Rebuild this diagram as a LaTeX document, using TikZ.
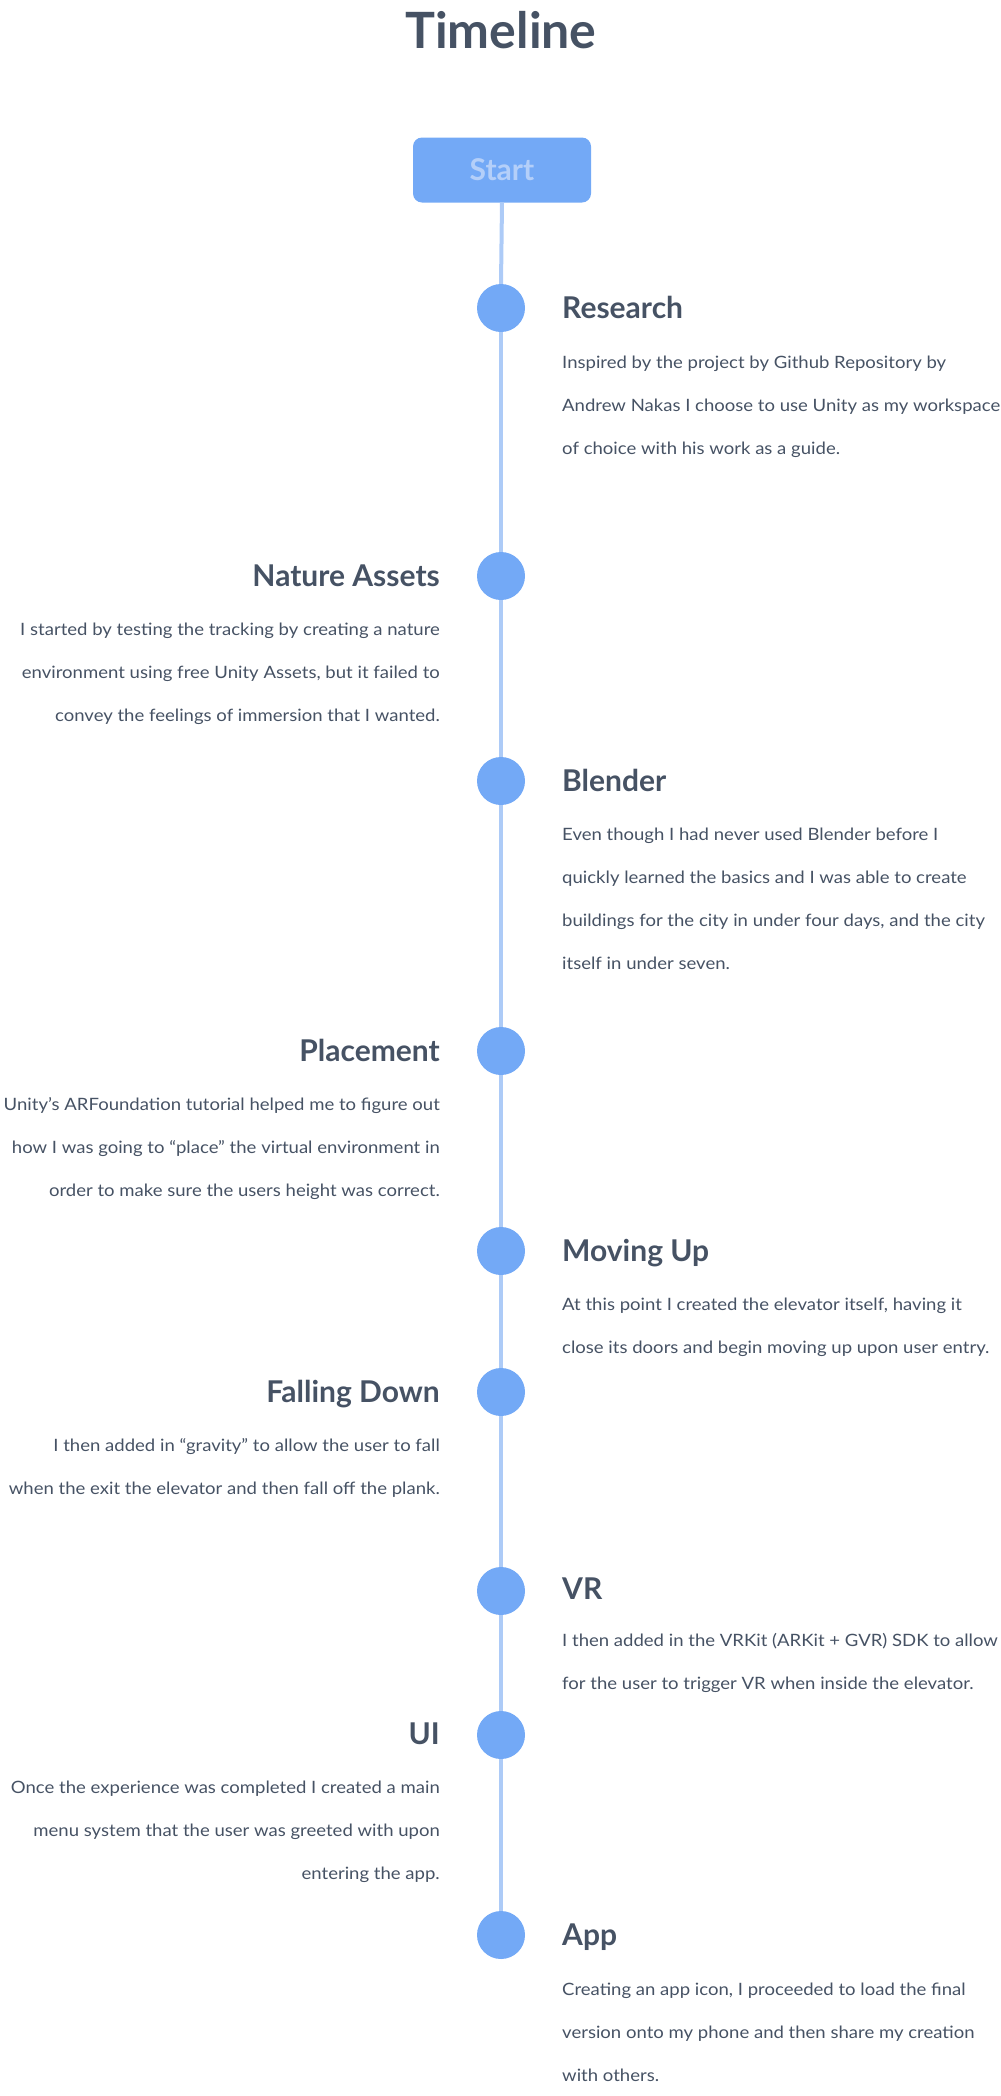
\documentclass[tikz,border=0pt]{standalone}
\usepackage{fontspec}
\setmainfont{Lato}
\newfontfamily\bodyfont[FakeStretch=1.09]{Lato}
\definecolor{ink}{HTML}{465264}
\definecolor{dotblue}{HTML}{73A9F6}
\definecolor{lineblue}{HTML}{ADCBF7}
\definecolor{startfg}{HTML}{B4CFF9}
\newcommand\linesR[1]{\begin{tabular}[t]{@{}l@{}}#1\end{tabular}}
\newcommand\linesL[1]{\begin{tabular}[t]{@{}r@{}}#1\end{tabular}}
\begin{document}
\begin{tikzpicture}[x=1pt,y=-1pt,
  dot/.style={circle,fill=dotblue,minimum size=48pt,inner sep=0pt},
  ttlR/.style={anchor=base west,inner sep=0pt,text=ink,font=\fontsize{30}{36}\selectfont\bfseries},
  ttlL/.style={anchor=base east,inner sep=0pt,text=ink,font=\fontsize{30}{36}\selectfont\bfseries},
  bodyR/.style={anchor=base west,inner sep=0pt,text=ink,font=\bodyfont\fontsize{17}{43}\selectfont},
  bodyL/.style={anchor=base east,inner sep=0pt,text=ink,font=\bodyfont\fontsize{17}{43}\selectfont},
  spine/.style={draw=lineblue,line width=4pt}]
\useasboundingbox (0,0) rectangle (1001,2096);
\node[text=ink,font=\fontsize{50}{58}\selectfont\bfseries,anchor=base,inner sep=0pt] (title) at (501,48) {Timeline};
\node[draw=none,fill=dotblue,rounded corners=9pt,minimum width=178pt,minimum height=65pt,inner sep=0pt,
  text=startfg,font=\fontsize{30}{36}\selectfont\bfseries] (start) at (502,170) {Start};
% dots
\node[dot] (d1) at (501,308) {};
\node[dot] (d2) at (501,576) {};
\node[dot] (d3) at (501,781) {};
\node[dot] (d4) at (501,1051) {};
\node[dot] (d5) at (501,1251) {};
\node[dot] (d6) at (501,1392) {};
\node[dot] (d7) at (501,1591) {};
\node[dot] (d8) at (501,1735) {};
\node[dot] (d9) at (501,1935) {};
\draw[spine] (start.south) -- (d1.north);
\draw[spine] (d1.south) -- (d2.north);
\draw[spine] (d2.south) -- (d3.north);
\draw[spine] (d3.south) -- (d4.north);
\draw[spine] (d4.south) -- (d5.north);
\draw[spine] (d5.south) -- (d6.north);
\draw[spine] (d6.south) -- (d7.north);
\draw[spine] (d7.south) -- (d8.north);
\draw[spine] (d8.south) -- (d9.north);
% Research
\node[ttlR] (t1) at (562,318) {Research};
\node[bodyR] (b1) at (562,368) {\linesR{Inspired by the project by Github Repository by\\Andrew Nakas I choose to use Unity as my workspace\\of choice with his work as a guide.}};
% Nature Assets
\node[ttlL] (t2) at (440,586) {Nature Assets};
\node[bodyL] (b2) at (440,635) {\linesL{I started by testing the tracking by creating a nature\\environment using free Unity Assets, but it failed to\\convey the feelings of immersion that I wanted.}};
% Blender
\node[ttlR] (t3) at (562,791) {Blender};
\node[bodyR] (b3) at (562,840) {\linesR{Even though I had never used Blender before I\\quickly learned the basics and I was able to create\\buildings for the city in under four days, and the city\\itself in under seven.}};
% Placement
\node[ttlL] (t4) at (440,1061) {Placement};
\node[bodyL] (b4) at (440,1110) {\linesL{Unity’s ARFoundation tutorial helped me to figure out\\how I was going to “place” the virtual environment in\\order to make sure the users height was correct.}};
% Moving Up
\node[ttlR] (t5) at (562,1261) {Moving Up};
\node[bodyR] (b5) at (562,1310) {\linesR{At this point I created the elevator itself, having it\\close its doors and begin moving up upon user entry.}};
% Falling Down
\node[ttlL] (t6) at (440,1402) {Falling Down};
\node[bodyL] (b6) at (440,1451) {\linesL{I then added in “gravity” to allow the user to fall\\when the exit the elevator and then fall off the plank.}};
% VR
\node[ttlR] (t7) at (562,1599) {VR};
\node[bodyR] (b7) at (562,1646) {\linesR{I then added in the VRKit (ARKit + GVR) SDK to allow\\for the user to trigger VR when inside the elevator.}};
% UI
\node[ttlL] (t8) at (440,1744) {UI};
\node[bodyL] (b8) at (440,1793) {\linesL{Once the experience was completed I created a main\\menu system that the user was greeted with upon\\entering the app.}};
% App
\node[ttlR] (t9) at (562,1945) {App};
\node[bodyR] (b9) at (562,1995) {\linesR{Creating an app icon, I proceeded to load the final\\version onto my phone and then share my creation\\with others.}};
\end{tikzpicture}
\end{document}
